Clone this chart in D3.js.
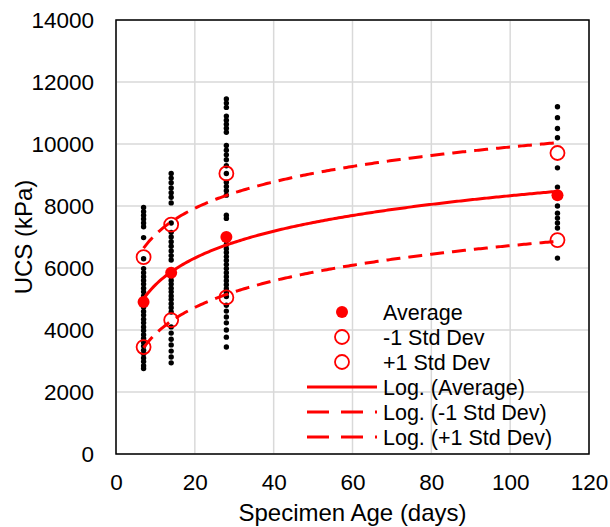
<!DOCTYPE html>
<html>
<head>
<meta charset="utf-8">
<script src="https://cdn.jsdelivr.net/npm/d3@7"></script>
<style>
  body { margin: 0; background: #fff; }
  text { font-family: "Liberation Sans", Arial, sans-serif; fill: #000; }
</style>
</head>
<body>
<script>
// specimen ages (days)
const ages = [7, 14, 28, 112];

// individual test results (kPa) per age
const ucs7 = [7950, 7820, 7700, 7580, 7450, 7330, 6980, 6300, 5980, 5850, 5720, 5600, 5480, 5350, 5230, 5100,
  4980, 4850, 4730, 4600, 4480, 4350, 4230, 4100, 3980, 3850, 3730, 3600, 3480, 3350, 3230, 3100, 2980, 2850, 2760];
const ucs14 = [9050, 8900, 8750, 8580, 8430, 8280, 8100, 7450, 7150, 7000, 6850, 6700, 6550, 6400, 6260,
  5850, 5720, 5600, 5480, 5350, 5230, 5100, 4980, 4850, 4720, 4580, 4100, 3900, 3700, 3520, 3320, 3130, 2940];
const ucs28 = [11450, 11320, 11180, 10900, 10770, 10640, 10510, 10380, 9950, 9800, 9650, 9490, 9300, 9050,
  8770, 8630, 8490, 8350, 7700, 7600, 7000, 6880, 6750, 6620, 6500, 6370, 6240, 6110, 5980, 5850, 5720,
  5590, 5460, 5330, 5200, 5080, 4800, 4610, 4420, 4230, 4000, 3770, 3450];
const ucs112 = [11200, 10850, 10500, 10200, 9230, 8610, 8000, 7770, 7610, 7450, 7290, 6320];
const tests = [ucs7, ucs14, ucs28, ucs112];

// statistics per age
const average = [4900, 5850, 7000, 8350];
const minus1 = [3450, 4320, 5050, 6900];
const plus1 = [6350, 7400, 9050, 9710];

const xTicks = [0, 20, 40, 60, 80, 100, 120];
const yTicks = [0, 2000, 4000, 6000, 8000, 10000, 12000, 14000];

const W = 610, H = 527;
const m = { left: 116, right: 21, top: 20, bottom: 73 };
const red = "#ff0000";

const svg = d3.select("body").append("svg").attr("width", W).attr("height", H);

const x = d3.scaleLinear().domain([0, 120]).range([m.left, W - m.right]);
const y = d3.scaleLinear().domain([0, 14000]).range([H - m.bottom, m.top]);

// gridlines
svg.append("g").selectAll("line.gy").data(yTicks).enter().append("line")
  .attr("x1", x(0)).attr("x2", x(120))
  .attr("y1", d => y(d)).attr("y2", d => y(d))
  .attr("stroke", "#d9d9d9").attr("stroke-width", 1.5);
svg.append("g").selectAll("line.gx").data(xTicks).enter().append("line")
  .attr("x1", d => x(d)).attr("x2", d => x(d))
  .attr("y1", y(0)).attr("y2", y(14000))
  .attr("stroke", "#d9d9d9").attr("stroke-width", 1.5);

// axes (labels only)
const xAxis = svg.append("g").attr("transform", `translate(0,${y(0)})`)
  .call(d3.axisBottom(x).tickValues(xTicks).tickSize(0).tickPadding(20));
const yAxis = svg.append("g").attr("transform", `translate(${x(0)},0)`)
  .call(d3.axisLeft(y).tickValues(yTicks).tickSize(0).tickPadding(22).tickFormat(d3.format("d")));
[xAxis, yAxis].forEach(a => {
  a.select(".domain").remove();
  a.selectAll("text").attr("font-size", 22.5).attr("font-family", "Liberation Sans, Arial, sans-serif");
});

// raw data points
const pts = [];
tests.forEach((arr, i) => arr.forEach(v => pts.push([ages[i], v])));
svg.append("g").selectAll("circle").data(pts).enter().append("circle")
  .attr("cx", d => x(d[0])).attr("cy", d => y(d[1])).attr("r", 2.7).attr("fill", "#000");

// log trendlines fitted from the statistics (least squares on ln t)
function logFit(vals) {
  const lx = ages.map(Math.log);
  const mx = d3.mean(lx), my = d3.mean(vals);
  let sxy = 0, sxx = 0;
  lx.forEach((v, i) => { sxy += (v - mx) * (vals[i] - my); sxx += (v - mx) ** 2; });
  const b = sxy / sxx, a = my - b * mx;
  return t => a + b * Math.log(t);
}
const tSamples = d3.range(7, 112.01, 0.5);
const line = d3.line().x(d => x(d[0])).y(d => y(d[1]));
[[average, null], [minus1, "14,8"], [plus1, "14,8"]].forEach(([vals, dash]) => {
  const f = logFit(vals);
  svg.append("path")
    .attr("d", line(tSamples.map(t => [t, f(t)])))
    .attr("fill", "none").attr("stroke", red).attr("stroke-width", 3)
    .attr("stroke-dasharray", dash);
});

// statistic markers
svg.append("g").selectAll("circle").data(ages).enter().append("circle")
  .attr("cx", d => x(d)).attr("cy", (d, i) => y(average[i])).attr("r", 6).attr("fill", red);
[minus1, plus1].forEach(vals => {
  svg.append("g").selectAll("circle").data(ages).enter().append("circle")
    .attr("cx", d => x(d)).attr("cy", (d, i) => y(vals[i])).attr("r", 7)
    .attr("fill", "none").attr("stroke", red).attr("stroke-width", 1.8);
});

// plot border
svg.append("rect")
  .attr("x", x(0)).attr("y", y(14000))
  .attr("width", x(120) - x(0)).attr("height", y(0) - y(14000))
  .attr("fill", "none").attr("stroke", "#000").attr("stroke-width", 1.5);

// legend
const legend = [
  { label: "Average", type: "dot" },
  { label: "-1 Std Dev", type: "ring" },
  { label: "+1 Std Dev", type: "ring" },
  { label: "Log. (Average)", type: "solid" },
  { label: "Log. (-1 Std Dev)", type: "dash" },
  { label: "Log. (+1 Std Dev)", type: "dash" }
];
const lg = svg.append("g");
legend.forEach((e, i) => {
  const cy = 312 + i * 25;
  if (e.type === "dot") {
    lg.append("circle").attr("cx", 342).attr("cy", cy).attr("r", 6).attr("fill", red);
  } else if (e.type === "ring") {
    lg.append("circle").attr("cx", 342).attr("cy", cy).attr("r", 7)
      .attr("fill", "none").attr("stroke", red).attr("stroke-width", 1.8);
  } else {
    lg.append("line").attr("x1", 307).attr("x2", 377).attr("y1", cy).attr("y2", cy)
      .attr("stroke", red).attr("stroke-width", 3)
      .attr("stroke-dasharray", e.type === "dash" ? "22,12" : null);
  }
  lg.append("text").attr("x", 383).attr("y", cy).attr("dy", "0.36em")
    .attr("font-size", 21.5).text(e.label);
});

// axis titles
svg.append("text").attr("x", (x(0) + x(120)) / 2).attr("y", 521)
  .attr("text-anchor", "middle").attr("font-size", 24).text("Specimen Age (days)");
svg.append("text").attr("transform", `translate(32,${(y(0) + y(14000)) / 2}) rotate(-90)`)
  .attr("text-anchor", "middle").attr("font-size", 24).text("UCS (kPa)");
</script>
</body>
</html>
